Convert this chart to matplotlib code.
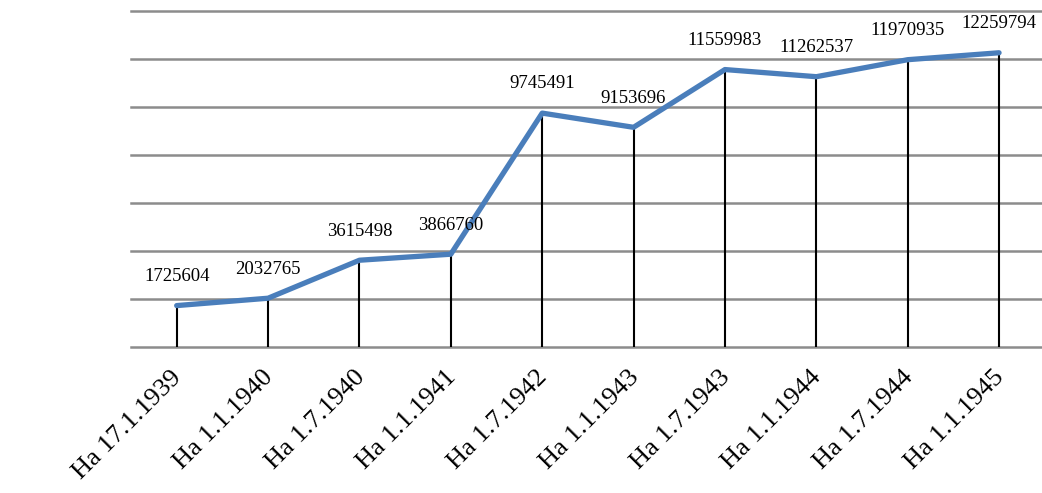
import matplotlib
matplotlib.use("Agg")
import matplotlib.pyplot as plt
import matplotlib.transforms as mtransforms

dates = ["На 17.1.1939", "На 1.1.1940", "На 1.7.1940", "На 1.1.1941", "На 1.7.1942",
         "На 1.1.1943", "На 1.7.1943", "На 1.1.1944", "На 1.7.1944", "На 1.1.1945"]
values = [1725604, 2032765, 3615498, 3866760, 9745491,
          9153696, 11559983, 11262537, 11970935, 12259794]

plt.rcParams['font.family'] = ['Liberation Serif', 'DejaVu Serif']

fig = plt.figure(figsize=(10.42, 4.93), dpi=100)
ax = fig.add_axes([131 / 1042, 146 / 493, 1 - 131 / 1042, 336 / 493])

x = list(range(len(values)))
ax.vlines(x, 0, values, color='black', linewidth=1.5, zorder=2)
ax.plot(x, values, color='#4a7ebb', linewidth=3.8, solid_capstyle='round', zorder=3)

for xi, v in zip(x, values):
    ax.annotate(str(v), (xi, v), xytext=(0, 21), textcoords='offset points',
                ha='center', va='center', fontsize=13.5)

ax.set_ylim(0, 14000000)
ax.set_xlim(-0.5, 9.47)
ax.set_yticks(range(0, 14000001, 2000000))
ax.yaxis.grid(True, color='#8c8c8c', linewidth=1.8)
for gl in ax.get_ygridlines():
    gl.set_clip_on(False)
ax.set_axisbelow(True)
ax.tick_params(axis='y', left=False, labelleft=False)
ax.tick_params(axis='x', length=0, pad=14)
ax.set_xticks(x)
ax.set_xticklabels(dates, rotation=45, ha='right', rotation_mode='anchor', fontsize=19)
shift = mtransforms.ScaledTranslation(-6 / 100, 0, fig.dpi_scale_trans)
for lbl in ax.get_xticklabels():
    lbl.set_transform(lbl.get_transform() + shift)
for s in ax.spines.values():
    s.set_visible(False)

fig.savefig("out.png", dpi=100)
